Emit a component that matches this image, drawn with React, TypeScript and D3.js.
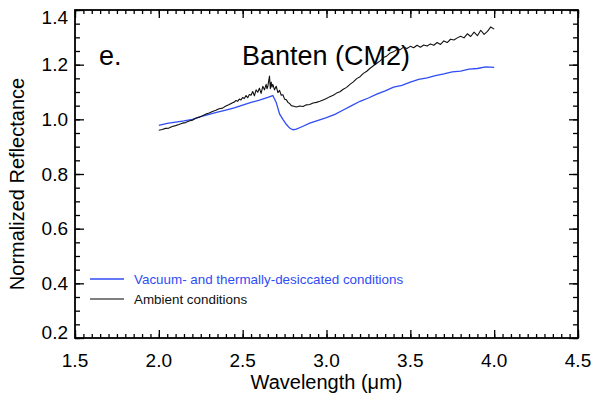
import { useEffect, useRef } from 'react';
import * as d3 from 'd3';

// spectra (wavelength in µm, normalized reflectance)
const ambientWavelength = [
  2.0, 2.02, 2.04, 2.06, 2.08, 2.1, 2.12, 2.14, 2.16, 2.18, 2.2, 2.22, 2.24, 2.26, 2.28, 2.3, 2.32, 2.34,
  2.36, 2.38, 2.4, 2.42, 2.44,
  2.45, 2.46, 2.47, 2.48, 2.49, 2.5, 2.51, 2.52, 2.53, 2.54, 2.55, 2.56, 2.57, 2.58, 2.59, 2.6, 2.61,
  2.62, 2.63, 2.64, 2.645, 2.65, 2.655, 2.66, 2.665, 2.67, 2.675, 2.68, 2.69, 2.7, 2.71, 2.72, 2.73,
  2.74, 2.75, 2.76, 2.77, 2.78, 2.79, 2.8,
  2.82, 2.84, 2.86, 2.88, 2.9, 2.92, 2.94, 2.96, 2.98, 3.0, 3.02, 3.04, 3.06, 3.08, 3.1, 3.12, 3.14,
  3.16, 3.18, 3.2, 3.22, 3.24, 3.26, 3.28, 3.3, 3.32, 3.34, 3.36, 3.38, 3.4, 3.42, 3.44, 3.46, 3.48,
  3.5, 3.52, 3.54, 3.56, 3.58, 3.6, 3.62, 3.64, 3.66, 3.68, 3.7, 3.72, 3.74, 3.76, 3.78, 3.8, 3.82,
  3.84, 3.86, 3.88, 3.9, 3.92, 3.94, 3.96, 3.98, 4.0,
];
const ambientReflectance = [
  0.960, 0.963, 0.967, 0.968, 0.974, 0.977, 0.981, 0.986, 0.988, 0.994, 0.997, 1.004, 1.008, 1.013, 1.019, 1.023, 1.029, 1.033,
  1.039, 1.041, 1.049, 1.054, 1.061,
  1.063, 1.069, 1.066, 1.074, 1.071, 1.080, 1.076, 1.087, 1.079, 1.091, 1.088, 1.102, 1.086, 1.108, 1.099, 1.114, 1.095,
  1.121, 1.108, 1.128, 1.112, 1.120, 1.140, 1.158, 1.112, 1.136, 1.118, 1.128, 1.108, 1.121, 1.098, 1.106, 1.088,
  1.090, 1.074, 1.072, 1.062, 1.058, 1.050, 1.049,
  1.045, 1.049, 1.047, 1.053, 1.054, 1.060, 1.062, 1.066, 1.071, 1.076, 1.083, 1.088, 1.096, 1.101, 1.110, 1.117, 1.128,
  1.137, 1.149, 1.156, 1.168, 1.176, 1.187, 1.196, 1.205, 1.214, 1.226, 1.232, 1.243, 1.247, 1.256, 1.255, 1.264, 1.259,
  1.267, 1.262, 1.271, 1.264, 1.272, 1.268, 1.276, 1.271, 1.281, 1.274, 1.287, 1.281, 1.293, 1.290, 1.298, 1.304, 1.298,
  1.313, 1.303, 1.319, 1.306, 1.326, 1.311, 1.322, 1.338, 1.330,
];

const desiccatedWavelength = [
  2.0, 2.05, 2.1, 2.15, 2.2, 2.25, 2.3, 2.35, 2.4, 2.45, 2.5, 2.55, 2.6, 2.65, 2.68, 2.7, 2.72, 2.74,
  2.76, 2.78, 2.8, 2.82, 2.85, 2.9, 2.95, 3.0, 3.05, 3.1, 3.15, 3.2, 3.25, 3.3, 3.35, 3.4, 3.45, 3.5,
  3.55, 3.6, 3.65, 3.7, 3.75, 3.8, 3.85, 3.9, 3.95, 4.0,
];
const desiccatedReflectance = [
  0.978, 0.985, 0.990, 0.994, 1.000, 1.010, 1.018, 1.026, 1.034, 1.042, 1.052, 1.062, 1.070, 1.080, 1.087, 1.062, 1.020, 1.000,
  0.982, 0.968, 0.962, 0.964, 0.972, 0.986, 0.996, 1.006, 1.018, 1.034, 1.050, 1.066, 1.078, 1.092, 1.104, 1.118, 1.124, 1.136,
  1.146, 1.152, 1.160, 1.166, 1.174, 1.176, 1.184, 1.186, 1.192, 1.190,
];

const xTicks = [1.5, 2.0, 2.5, 3.0, 3.5, 4.0, 4.5];
const yTicks = [0.2, 0.4, 0.6, 0.8, 1.0, 1.2, 1.4];

const legendItems = [
  { label: 'Vacuum- and thermally-desiccated conditions', color: '#2f4cf5', text: '#2f4cf5' },
  { label: 'Ambient conditions', color: '#555', text: '#111' },
];

export default function App() {
  const svgRef = useRef<SVGSVGElement>(null);

  useEffect(() => {
    if (!svgRef.current) return;
    const svg = d3.select(svgRef.current);
    svg.selectAll('*').remove();

    const left = 75, right = 578, top = 10, bottom = 338;
    const font = '"Liberation Sans", Arial, Helvetica, sans-serif';

    const x = d3.scaleLinear().domain([1.5, 4.5]).range([left, right]);
    const y = d3.scaleLinear().domain([0.2, 1.4]).range([bottom, top]);

    const minorX = d3.range(30, 91, 1).map(d => d / 20);
    const minorY = d3.range(4, 29, 1).map(d => d / 20);

    const axisStyle = (g: any) => {
      g.select('.domain').remove();
      g.selectAll('line').attr('stroke', '#000').attr('stroke-width', 1.3);
      g.selectAll('text').remove();
    };

    // minor + major ticks on all four sides, pointing inwards
    svg.append('g').attr('transform', `translate(0,${bottom})`)
      .call(d3.axisBottom(x).tickValues(minorX).tickSize(-4) as any).call(axisStyle);
    svg.append('g').attr('transform', `translate(0,${bottom})`)
      .call(d3.axisBottom(x).tickValues(xTicks).tickSize(-8) as any).call(axisStyle);
    svg.append('g').attr('transform', `translate(0,${top})`)
      .call(d3.axisTop(x).tickValues(minorX).tickSize(-4) as any).call(axisStyle);
    svg.append('g').attr('transform', `translate(0,${top})`)
      .call(d3.axisTop(x).tickValues(xTicks).tickSize(-8) as any).call(axisStyle);
    svg.append('g').attr('transform', `translate(${left},0)`)
      .call(d3.axisLeft(y).tickValues(minorY).tickSize(-5) as any).call(axisStyle);
    svg.append('g').attr('transform', `translate(${left},0)`)
      .call(d3.axisLeft(y).tickValues(yTicks).tickSize(-9) as any).call(axisStyle);
    svg.append('g').attr('transform', `translate(${right},0)`)
      .call(d3.axisRight(y).tickValues(minorY).tickSize(-5) as any).call(axisStyle);
    svg.append('g').attr('transform', `translate(${right},0)`)
      .call(d3.axisRight(y).tickValues(yTicks).tickSize(-9) as any).call(axisStyle);

    svg.append('rect')
      .attr('x', left).attr('y', top)
      .attr('width', right - left).attr('height', bottom - top)
      .attr('fill', 'none').attr('stroke', '#000').attr('stroke-width', 1.8);

    // tick labels
    svg.append('g').selectAll('text').data(xTicks).enter().append('text')
      .attr('x', d => x(d)).attr('y', 367)
      .attr('text-anchor', 'middle')
      .style('font-family', font).style('font-size', '19px')
      .text(d => d.toFixed(1));

    svg.append('g').selectAll('text').data(yTicks).enter().append('text')
      .attr('x', 68)
      .attr('y', d => Math.max(top + 7, Math.min(bottom - 6, y(d))))
      .attr('dy', '0.35em')
      .attr('text-anchor', 'end')
      .style('font-family', font).style('font-size', '19px')
      .text(d => d.toFixed(1));

    // axis titles
    svg.append('text')
      .attr('x', (left + right) / 2).attr('y', 389)
      .attr('text-anchor', 'middle')
      .style('font-family', font).style('font-size', '20px')
      .text('Wavelength (\u03bcm)');

    svg.append('text')
      .attr('transform', `translate(24,${(top + bottom) / 2 + 10}) rotate(-90)`)
      .attr('text-anchor', 'middle')
      .style('font-family', font).style('font-size', '20px')
      .text('Normalized Reflectance');

    // panel label and title
    svg.append('text')
      .attr('x', 99).attr('y', 65)
      .style('font-family', font).style('font-size', '27px')
      .text('e.');
    svg.append('text')
      .attr('x', 242).attr('y', 65)
      .style('font-family', font).style('font-size', '27px')
      .text('Banten (CM2)');

    const line = d3.line<[number, number]>()
      .x(d => x(d[0]))
      .y(d => y(d[1]));

    const desiccated = desiccatedWavelength.map((w, i) => [w, desiccatedReflectance[i]] as [number, number]);
    const ambient = ambientWavelength.map((w, i) => [w, ambientReflectance[i]] as [number, number]);

    svg.append('path').datum(desiccated)
      .attr('fill', 'none').attr('stroke', '#2f4cf5').attr('stroke-width', 1.3)
      .attr('d', line);
    svg.append('path').datum(ambient)
      .attr('fill', 'none').attr('stroke', '#111').attr('stroke-width', 1.1)
      .attr('stroke-linejoin', 'round')
      .attr('d', line);

    // legend
    const lg = svg.append('g');
    legendItems.forEach((item, i) => {
      const ly = 279 + i * 20;
      lg.append('line')
        .attr('x1', 90).attr('x2', 124).attr('y1', ly).attr('y2', ly)
        .attr('stroke', item.color).attr('stroke-width', 1.3);
      lg.append('text')
        .attr('x', 134).attr('y', ly + 4.5)
        .attr('fill', item.text)
        .style('font-family', font).style('font-size', '13.4px')
        .text(item.label);
    });
  }, []);

  return (
    <svg
      ref={svgRef}
      width={595}
      height={403}
      style={{ position: 'absolute', left: 0, top: 0, background: '#fff' }}
    />
  );
}
